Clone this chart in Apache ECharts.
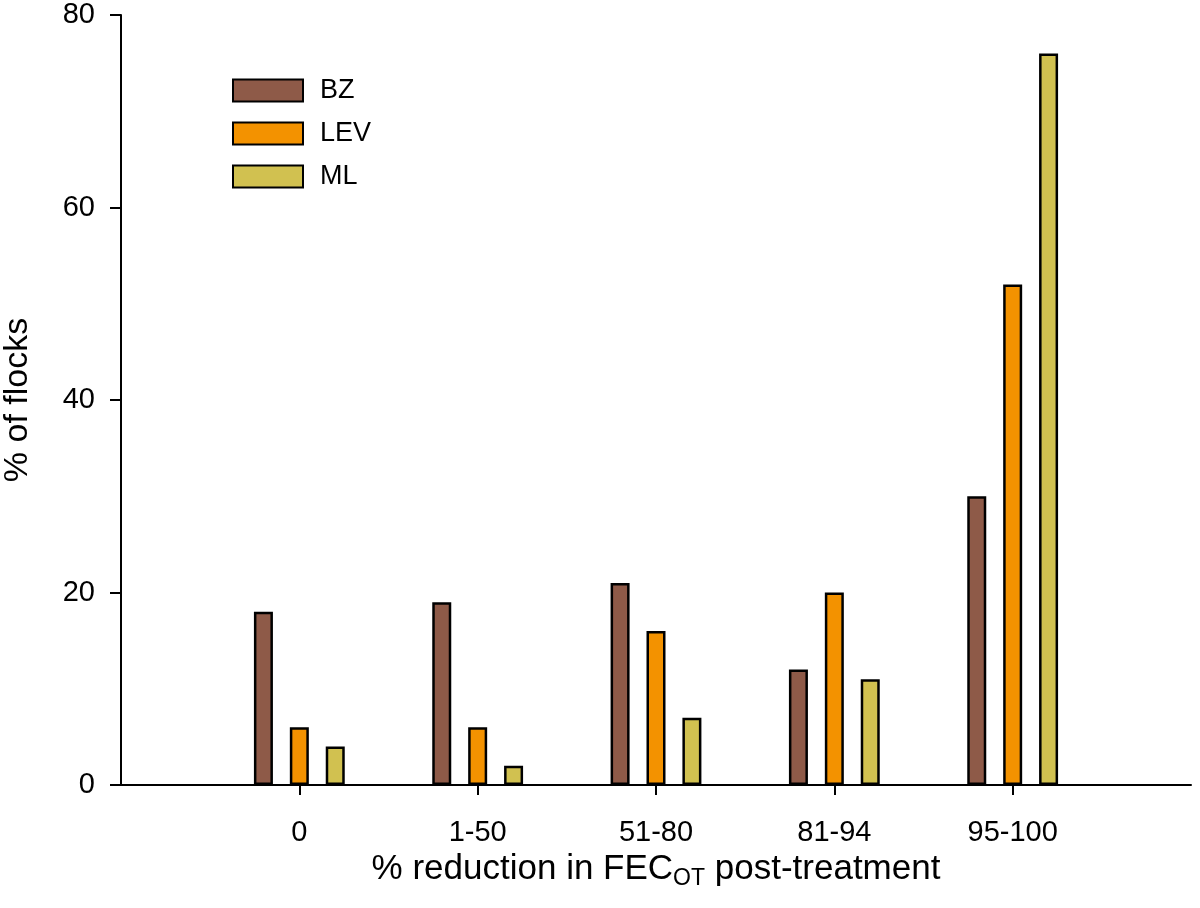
<!DOCTYPE html>
<html>
<head>
<meta charset="utf-8">
<script src="https://cdn.jsdelivr.net/npm/echarts@6/dist/echarts.min.js"></script>
<style>html,body{margin:0;padding:0;background:#fff}#c{width:1200px;height:908px}</style>
</head>
<body>
<div id="c"></div>
<script>
// categories (blank slots pad the axis ends)
const categories = ['', '0', '1-50', '51-80', '81-94', '95-100', ''];
const BZ  = ['-', 18, 19, 21, 12, 30, '-'];
const LEV = ['-', 6, 6, 16, 20, 52, '-'];
const ML  = ['-', 4, 2, 7, 11, 76, '-'];
const yTicks = [0, 20, 40, 60, 80];

const FONT = '"Liberation Sans", Arial, sans-serif';
const chart = echarts.init(document.getElementById('c'), null, {renderer: 'canvas'});
const barStyle = (color) => ({color: color, borderColor: '#000', borderWidth: 2.5});
chart.setOption({
  animation: false,
  backgroundColor: '#fff',
  textStyle: {fontFamily: FONT, color: '#000'},
  grid: {left: 121, right: 9, top: 15, bottom: 123, containLabel: false, outerBoundsMode: 'none'},
  legend: {
    left: 232, top: 77, orient: 'vertical', padding: 0,
    itemWidth: 70, itemHeight: 22, itemGap: 16,
    icon: 'rect',
    textStyle: {fontFamily: FONT, fontSize: 27, color: '#000', padding: [0, 0, 0, 12]},
    data: ['BZ', 'LEV', 'ML']
  },
  xAxis: {
    type: 'category',
    data: categories,
    boundaryGap: false,
    axisLine: {lineStyle: {color: '#000', width: 2}},
    axisTick: {length: 10, lineStyle: {color: '#000', width: 2}, interval: (i, v) => v !== ''},
    axisLabel: {interval: 0, fontSize: 29, color: '#000', margin: 33, fontFamily: FONT},
    name: '% reduction in FEC{sub|OT} post-treatment',
    nameLocation: 'middle',
    nameGap: 50,
    nameTextStyle: {
      fontSize: 35, color: '#000', fontFamily: FONT,
      rich: {sub: {fontSize: 23, fontFamily: FONT, color: '#000', padding: [18, 0, 0, 0]}}
    },
    splitLine: {show: false}
  },
  yAxis: {
    type: 'value',
    min: yTicks[0], max: yTicks[yTicks.length - 1], interval: 20,
    axisLine: {show: true, lineStyle: {color: '#000', width: 2}},
    axisTick: {show: true, length: 11, lineStyle: {color: '#000', width: 2}},
    axisLabel: {fontSize: 29, color: '#000', margin: 26, fontFamily: FONT},
    splitLine: {show: false},
    name: '% of flocks',
    nameLocation: 'middle',
    nameGap: 86,
    nameTextStyle: {fontSize: 34, color: '#000', fontFamily: FONT}
  },
  series: [
    {name: 'BZ', type: 'bar', data: BZ, barWidth: 19, barGap: '89%', itemStyle: barStyle('#8E5A48')},
    {name: 'LEV', type: 'bar', data: LEV, barWidth: 19, barGap: '89%', itemStyle: barStyle('#F39200')},
    {name: 'ML', type: 'bar', data: ML, barWidth: 19, barGap: '89%', itemStyle: barStyle('#D1C150')}
  ]
});
</script>
</body>
</html>
